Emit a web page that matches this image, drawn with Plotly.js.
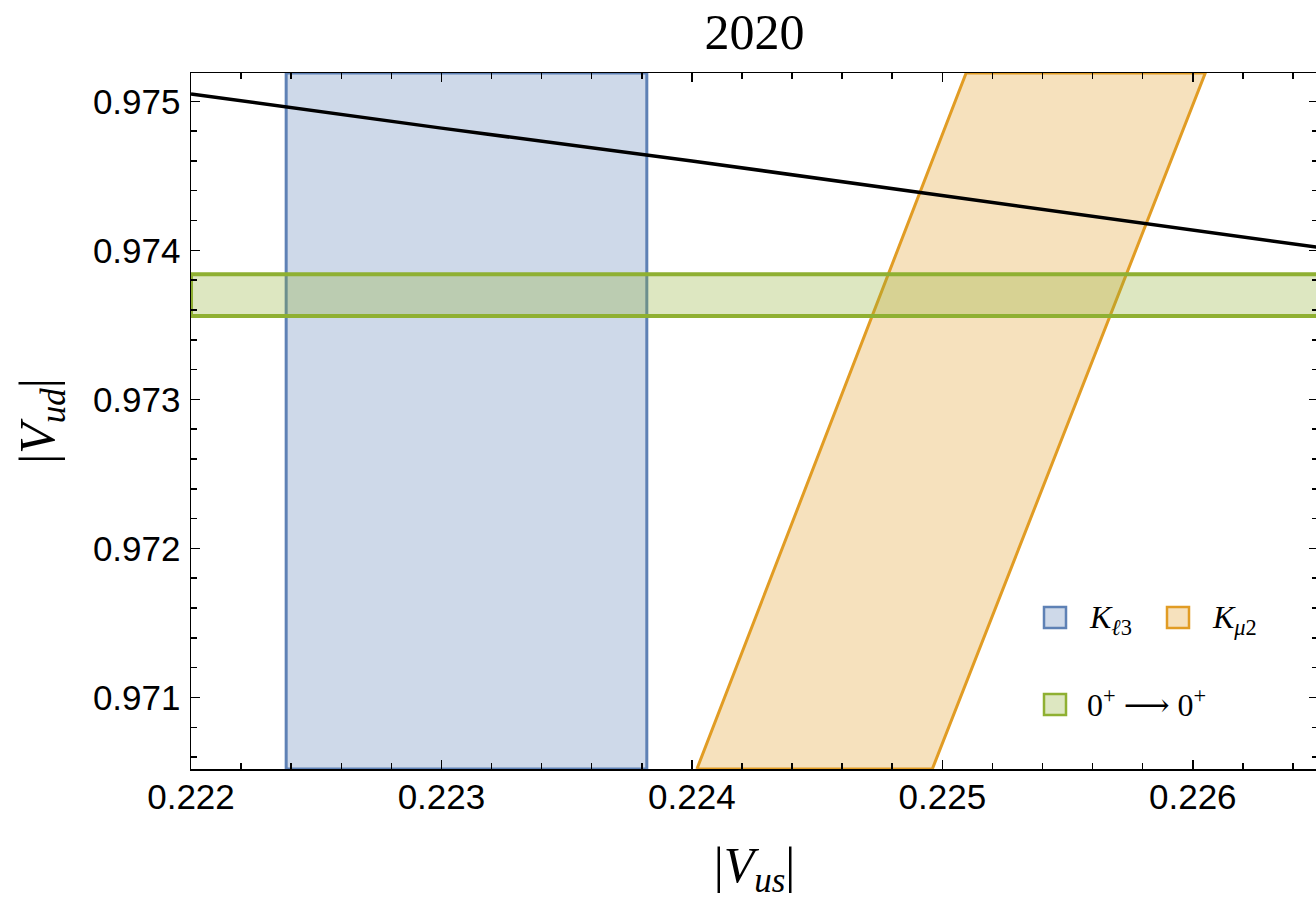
<!DOCTYPE html>
<html>
<head>
<meta charset="utf-8">
<script src="https://cdn.plot.ly/plotly-3.0.1.min.js"></script>
<style>
html,body{margin:0;padding:0;overflow:hidden;background:#fff}
#chart{width:1318px;height:901px}
</style>
</head>
<body>
<div id="chart"></div>
<script>
// ---- data ----
var xRange = [0.222, 0.2265];
var yRange = [0.97052, 0.97519];

// K_l3 : vertical band in |Vus|
var kl3Vus = [0.22238, 0.22382, 0.22382, 0.22238, 0.22238];
var kl3Vud = [0.97052, 0.97052, 0.97519, 0.97519, 0.97052];

// K_mu2 : slanted band (ratio |Vus|/|Vud|)
var kmu2Vus = [0.22402, 0.22496, 0.22605, 0.225095, 0.22402];
var kmu2Vud = [0.97052, 0.97052, 0.97519, 0.97519, 0.97052];

// 0+ -> 0+ : horizontal band in |Vud|
var superVus = [0.222, 0.2265, 0.2265, 0.222, 0.222];
var superVud = [0.97356, 0.97356, 0.97384, 0.97384, 0.97356];

// unitarity curve
var unitVus = [0.222, 0.223, 0.224, 0.225, 0.226, 0.2265];
var unitVud = [0.97505, 0.97482, 0.97460, 0.97437, 0.97414, 0.97402];

var xTickVals = [0.222, 0.223, 0.224, 0.225, 0.226];
var xTickText = ['0.222', '0.223', '0.224', '0.225', '0.226'];
var yTickVals = [0.971, 0.972, 0.973, 0.974, 0.975];
var yTickText = ['0.971', '0.972', '0.973', '0.974', '0.975'];

var legendLabels = ['<i>K</i><sub><i>ℓ</i>3</sub>', '<i>K</i><sub><i>μ</i>2</sub>', '0<sup>+</sup> ⟶ 0<sup>+</sup>'];

// ---- styles ----
var blue = 'rgb(94,129,181)', blueFill = 'rgba(94,129,181,0.3)';
var orange = 'rgb(225,156,36)', orangeFill = 'rgba(225,156,36,0.3)';
var green = 'rgb(143,176,50)', greenFill = 'rgba(143,176,50,0.3)';

var W = 1318, H = 901, ML = 191, MR = 0, MT = 73, MB = 132;
var PW = W - ML - MR, PH = H - MT - MB;
function px(x){ return (x - ML) / PW; }
function py(y){ return (MT + PH - y) / PH; }

var traces = [
  {x: kl3Vus, y: kl3Vud, mode: 'lines', fill: 'toself', fillcolor: blueFill,
   line: {color: blue, width: 3}, name: 'Kl3', showlegend: false, hoverinfo: 'skip'},
  {x: kmu2Vus, y: kmu2Vud, mode: 'lines', fill: 'toself', fillcolor: orangeFill,
   line: {color: orange, width: 3}, name: 'Kmu2', showlegend: false, hoverinfo: 'skip'},
  {x: superVus, y: superVud, mode: 'lines', fill: 'toself', fillcolor: greenFill,
   line: {color: green, width: 4}, name: '0+ -> 0+', showlegend: false, hoverinfo: 'skip'},
  {x: unitVus, y: unitVud, mode: 'lines', line: {color: 'black', width: 3.5},
   name: 'unitarity', showlegend: false, hoverinfo: 'skip'}
];

var serif = 'Liberation Serif, DejaVu Serif, serif';
var sans = 'Liberation Sans, Arial, sans-serif';

function sq(x0, y0, col, fillc){
  return {type: 'rect', xref: 'paper', yref: 'paper',
    x0: px(x0), x1: px(x0 + 22), y0: py(y0 + 21), y1: py(y0),
    fillcolor: fillc, line: {color: col, width: 2.5}};
}

var layout = {
  width: W, height: H,
  margin: {l: ML, r: MR, t: MT, b: MB, pad: 0},
  paper_bgcolor: 'white', plot_bgcolor: 'white',
  showlegend: false,
  title: {text: '2020', font: {family: serif, size: 50, color: 'black'},
          x: 0.5, xref: 'paper', xanchor: 'center', y: 1 - 31/H, yref: 'container', yanchor: 'middle'},
  xaxis: {
    range: xRange, tickvals: xTickVals, ticktext: xTickText,
    showgrid: false, zeroline: false,
    showline: true, linecolor: 'black', linewidth: 1.5, mirror: 'ticks',
    ticks: 'inside', ticklen: 9, tickwidth: 1.5, tickcolor: 'black',
    minor: {dtick: 0.0002, ticks: 'inside', ticklen: 6, tickwidth: 1.5, tickcolor: 'black', showgrid: false},
    tickfont: {family: sans, size: 35, color: 'black'},
    ticklabelstandoff: -4,
    title: {text: '|<i>V</i><sub><i>us</i></sub>|', font: {family: serif, size: 50, color: 'black'}, standoff: 32}
  },
  yaxis: {
    range: yRange, tickvals: yTickVals, ticktext: yTickText,
    showgrid: false, zeroline: false,
    showline: true, linecolor: 'black', linewidth: 1.5, mirror: 'ticks',
    ticks: 'inside', ticklen: 9, tickwidth: 1.5, tickcolor: 'black',
    minor: {dtick: 0.0002, ticks: 'inside', ticklen: 6, tickwidth: 1.5, tickcolor: 'black', showgrid: false},
    tickfont: {family: sans, size: 35, color: 'black'},
    ticklabelstandoff: 2,
    title: {text: '|<i>V</i><sub><i>ud</i></sub>|', font: {family: serif, size: 50, color: 'black'}, standoff: 22}
  },
  shapes: [
    sq(1044, 607, blue, blueFill),
    sq(1167, 607, orange, orangeFill),
    sq(1044, 694, green, greenFill)
  ],
  annotations: [
    {xref: 'paper', yref: 'paper', x: px(1087), y: py(619), xanchor: 'left', yanchor: 'middle',
     text: legendLabels[0], showarrow: false, font: {family: serif, size: 32, color: 'black'}},
    {xref: 'paper', yref: 'paper', x: px(1210), y: py(619), xanchor: 'left', yanchor: 'middle',
     text: legendLabels[1], showarrow: false, font: {family: serif, size: 32, color: 'black'}},
    {xref: 'paper', yref: 'paper', x: px(1085), y: py(703), xanchor: 'left', yanchor: 'middle',
     text: legendLabels[2], showarrow: false, font: {family: serif, size: 32, color: 'black'}}
  ]
};

Plotly.newPlot('chart', traces, layout, {displayModeBar: false, staticPlot: true});
</script>
</body>
</html>
